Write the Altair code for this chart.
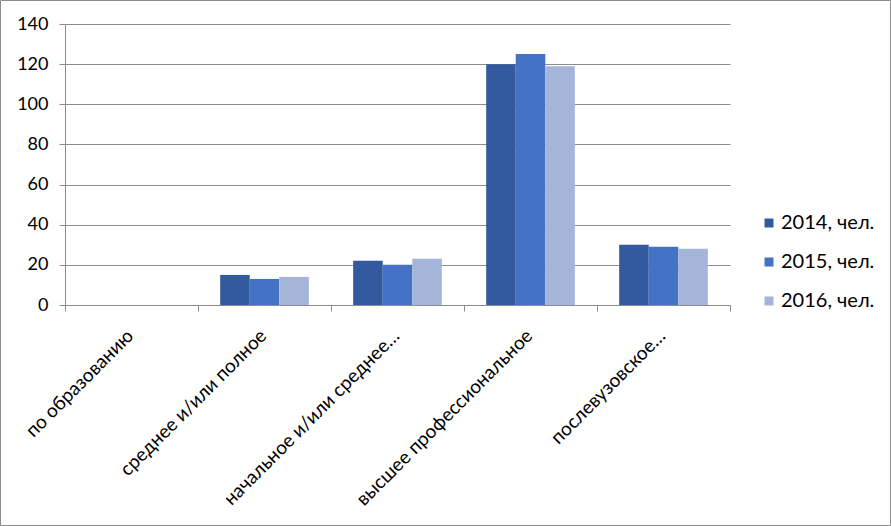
import altair as alt
import pandas as pd

categories = ["по образованию", "среднее и/или полное", "начальное и/или среднее…",
              "высшее профессиональное", "послевузовское…"]
series = ["2014, чел.", "2015, чел.", "2016, чел."]
v2014 = [0, 15, 22, 120, 30]
v2015 = [0, 13, 20, 125, 29]
v2016 = [0, 14, 23, 119, 28]
colors = ["#335A9E", "#4472C4", "#A5B4D9"]

rows = []
for s, vals in zip(series, [v2014, v2015, v2016]):
    for c, v in zip(categories, vals):
        rows.append({"cat": c, "series": s, "value": v})
df = pd.DataFrame(rows)

FONT = "Lato"

bars = alt.Chart(df).mark_bar().encode(
    x=alt.X("cat:N", sort=categories, title=None,
            scale=alt.Scale(paddingInner=0, paddingOuter=0),
            axis=alt.Axis(labelAngle=-45, labelAlign="right", labelBaseline="top",
                          labelPadding=15, labelOffset=-8, tickBand="extent", tickSize=6,
                          domainColor="#8c8c8c", tickColor="#8c8c8c",
                          labelFontSize=19, labelColor="#000000", labelFont=FONT,
                          labelLimit=400, grid=False)),
    xOffset=alt.XOffset("series:N", sort=series,
                        scale=alt.Scale(paddingInner=0, paddingOuter=0.75)),
    y=alt.Y("value:Q", title=None,
            scale=alt.Scale(domain=[0, 140], nice=False),
            axis=alt.Axis(values=[0, 20, 40, 60, 80, 100, 120, 140], tickSize=6,
                          domainColor="#8c8c8c", tickColor="#8c8c8c",
                          gridColor="#8c8c8c", labelFontSize=18, labelColor="#000000",
                          labelFont=FONT, labelPadding=11)),
    color=alt.Color("series:N", sort=series,
                    scale=alt.Scale(domain=series, range=colors),
                    legend=alt.Legend(title=None, orient="none", legendX=694, legendY=189,
                                      symbolType="square", symbolSize=81, symbolStrokeWidth=0,
                                      labelFontSize=20, labelFont=FONT, labelColor="#000000",
                                      rowPadding=19, padding=0, labelOffset=2)),
)

frame = alt.Chart(alt.Data(values=[{}])).mark_rect(fill=None, stroke="#8c8c8c", strokeWidth=1).encode(
    x=alt.value(-64.5), x2=alt.value(825.5), y=alt.value(-23.5), y2=alt.value(501.5)
)

chart = alt.layer(bars, frame).properties(
    width=665, height=281,
    autosize=alt.AutoSizeParams(type="none"),
    padding={"left": 65, "top": 24, "right": 161, "bottom": 221},
    background="white",
).configure_view(stroke=None)

chart.save("out.html", embed_options={"renderer": "svg", "actions": False})
